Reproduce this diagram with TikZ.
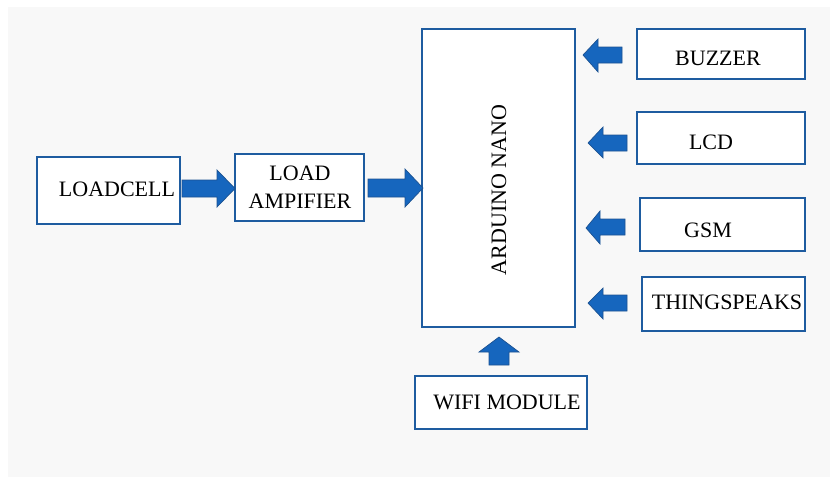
\documentclass[tikz,border=0pt]{standalone}
\usepackage{fontspec}
\setmainfont{Liberation Serif}
\definecolor{boxblue}{RGB}{30,92,160}
\definecolor{arrowblue}{RGB}{22,102,190}
\definecolor{arrowedge}{RGB}{28,82,145}
\definecolor{bggray}{RGB}{248,248,248}
\begin{document}
\begin{tikzpicture}[x=1pt,y=-1pt,
  box/.style={draw=boxblue, line width=1.8pt, fill=white, inner sep=0pt},
  lbl/.style={font=\fontsize{22}{28}\selectfont, inner sep=0pt, text=black},
  blk/.style={fill=arrowblue, draw=arrowedge, line width=0.7pt, line join=miter}]
\useasboundingbox (0,0) rectangle (837,477);
\fill[white] (0,0) rectangle (837,477);
\fill[bggray] (8,7) rectangle (830,477);

% boxes
\node[box, minimum width=143pt, minimum height=67pt] (loadcell) at (108.5,190.5) {};
\node[box, minimum width=129pt, minimum height=67pt] (amp) at (299.5,187.5) {};
\node[box, minimum width=153pt, minimum height=298pt] (nano) at (498.5,178) {};
\node[box, minimum width=168pt, minimum height=50pt] (buzzer) at (721,54) {};
\node[box, minimum width=168pt, minimum height=52pt] (lcd) at (721,138) {};
\node[box, minimum width=165pt, minimum height=53pt] (gsm) at (722.5,224.5) {};
\node[box, minimum width=163pt, minimum height=54pt] (thing) at (723.5,304) {};
\node[box, minimum width=172pt, minimum height=53pt] (wifi) at (501,402.5) {};

% labels
\node[lbl] (tloadcell) at (117,189) {LOADCELL};
\node[lbl, align=center] (tamp) at (300,187) {LOAD\\AMPIFIER};
\node[lbl, rotate=90] (tnano) at (499,190) {ARDUINO NANO};
\node[lbl] (tbuzzer) at (718,58) {BUZZER};
\node[lbl] (tlcd) at (711,142) {LCD};
\node[lbl] (tgsm) at (708,230) {GSM};
\node[lbl] (tthing) at (727,302) {THINGSPEAKS};
\node[lbl] (twifi) at (507,402) {WIFI MODULE};

% block arrows
\draw[blk] (182,180) -- (217,180) -- (217,170) -- (235,188.5) -- (217,207) -- (217,197) -- (182,197) -- cycle;
\draw[blk] (368,179) -- (405,179) -- (405,169) -- (423,188) -- (405,207) -- (405,197) -- (368,197) -- cycle;
\draw[blk] (622,47) -- (598,47) -- (598,39) -- (583,55) -- (598,72) -- (598,63) -- (622,63) -- cycle;
\draw[blk] (627,135) -- (603,135) -- (603,127) -- (588,143) -- (603,158) -- (603,151) -- (627,151) -- cycle;
\draw[blk] (625,219) -- (600,219) -- (600,211) -- (586,228) -- (600,244) -- (600,235) -- (625,235) -- cycle;
\draw[blk] (627,295) -- (603,295) -- (603,288) -- (588,303) -- (603,319) -- (603,311) -- (627,311) -- cycle;
\draw[blk] (489,365) -- (489,352) -- (479,352) -- (499,337) -- (519,352) -- (509,352) -- (509,365) -- cycle;
\end{tikzpicture}
\end{document}
